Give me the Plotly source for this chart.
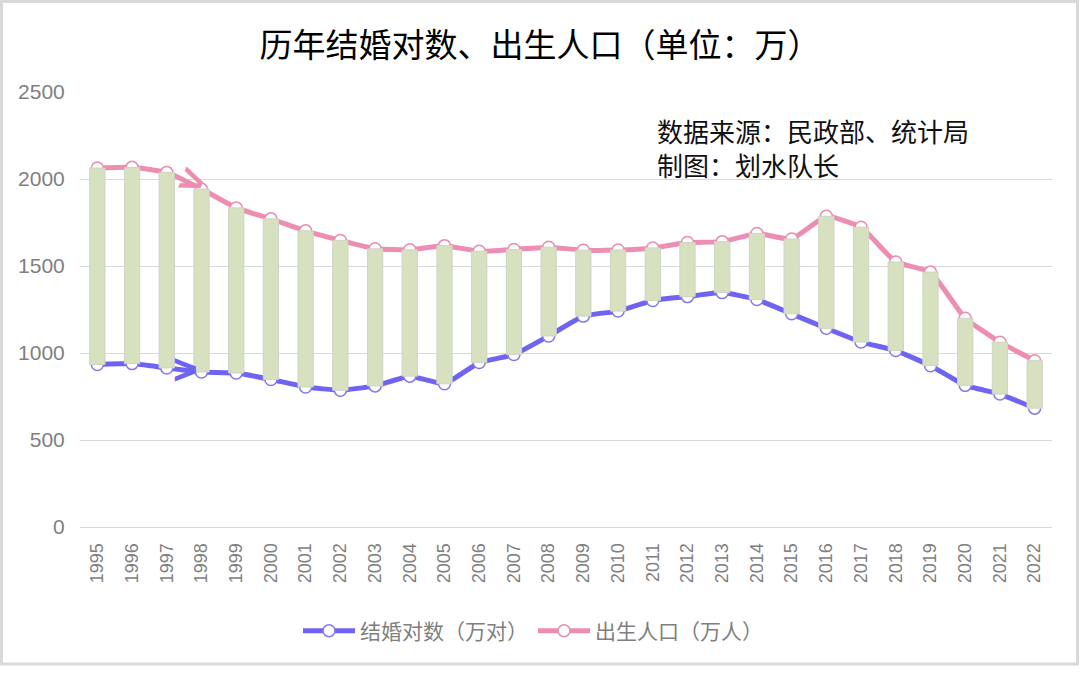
import plotly.graph_objects as go

years = [str(y) for y in range(1995, 2023)]
marriages = [934, 939, 914, 891, 885, 848, 805, 786, 811, 867, 823, 945, 991, 1098,
             1212, 1241, 1302, 1324, 1347, 1307, 1225, 1142, 1063, 1014, 927, 814, 764, 683]
births = [2063, 2067, 2038, 1942, 1834, 1771, 1702, 1647, 1599, 1593, 1617, 1585, 1595, 1608,
          1591, 1592, 1604, 1635, 1640, 1687, 1655, 1786, 1723, 1523, 1465, 1200, 1062, 956]
gaps = [b - m for b, m in zip(births, marriages)]

title_text = "历年结婚对数、出生人口（单位：万）"
source_line1 = "数据来源：民政部、统计局"
source_line2 = "制图：划水队长"
name_m = "结婚对数（万对）"
name_b = "出生人口（万人）"

W, H = 1080, 681
L, R, T, B = 80, 28, 92, 154
PW, PH = W - L - R, H - T - B

def px_x(p):
    return (p - L) / PW

def px_y(p):
    return (H - B - p) / PH

BLUE = "#6f63f3"
PINK = "#ee8db2"
GREEN = "#d7e1c0"
CJK = "Noto Sans CJK SC, Liberation Sans, sans-serif"

fig = go.Figure()

fig.add_trace(go.Scatter(
    x=years, y=marriages, name=name_m, mode="lines+markers",
    line=dict(color=BLUE, width=5, shape="spline", smoothing=0.4),
    marker=dict(size=12, color="white", line=dict(color="#8278ee", width=1.5)),
    zorder=0,
))
fig.add_trace(go.Scatter(
    x=years, y=births, name=name_b, mode="lines+markers",
    line=dict(color=PINK, width=5, shape="spline", smoothing=0.4),
    marker=dict(size=12, color="white", line=dict(color="#e98cb0", width=1.5)),
    zorder=0,
))
fig.add_trace(go.Bar(
    x=years, y=gaps, base=marriages, width=0.44, showlegend=False,
    marker=dict(color=GREEN, line=dict(color="#cfd3c6", width=1)),
    hoverinfo="skip", zorder=1,
))

# chevron arrows
fig.add_annotation(x=2.75, y=1990, xref="x", yref="y", text="<b>&gt;</b>", showarrow=False,
                   textangle=22, font=dict(size=42, color=PINK, family="Liberation Sans"))
fig.add_annotation(x=2.55, y=905, xref="x", yref="y", text="<b>&gt;</b>", showarrow=False,
                   textangle=0, font=dict(size=42, color=BLUE, family="Liberation Sans"))

fig.add_annotation(x=px_x(655), y=px_y(130), xref="paper", yref="paper", xanchor="left", yanchor="middle",
                   text=source_line1, showarrow=False, align="left",
                   font=dict(size=26, color="#111111", family=CJK))
fig.add_annotation(x=px_x(655), y=px_y(164), xref="paper", yref="paper", xanchor="left", yanchor="middle",
                   text=source_line2, showarrow=False, align="left",
                   font=dict(size=26, color="#111111", family=CJK))

# outer frame
fig.add_shape(type="rect", xref="paper", yref="paper",
              x0=px_x(1.5), x1=px_x(1077.5), y0=px_y(664), y1=px_y(1.5),
              line=dict(color="#d9d9d9", width=3), fillcolor="rgba(0,0,0,0)", layer="below")

fig.update_layout(
    width=W, height=H,
    margin=dict(l=L, r=R, t=T, b=B),
    paper_bgcolor="white", plot_bgcolor="white",
    title=dict(text=title_text, x=0.5, xanchor="center", y=1 - 45 / H, yanchor="middle",
               font=dict(size=33, color="#000000", family=CJK)),
    barmode="overlay",
    showlegend=True,
    legend=dict(orientation="h", x=px_x(533), xanchor="center",
                y=px_y(631), yanchor="middle", itemwidth=52,
                font=dict(size=21, color="#7f7f7f", family=CJK), bgcolor="rgba(0,0,0,0)"),
    font=dict(family="Liberation Sans, Arial, sans-serif"),
)
fig.update_xaxes(
    type="category", range=[-0.5, 27.5], showgrid=False, showline=False, zeroline=False,
    tickangle=-90, tickfont=dict(size=18, color="#7f7f7f", family="Liberation Sans"),
    ticks="outside", ticklen=8, tickcolor="rgba(0,0,0,0)",
)
fig.update_yaxes(
    range=[0, 2500], dtick=500, showgrid=True, gridcolor="#d9d9d9", gridwidth=1,
    zeroline=True, zerolinecolor="#d9d9d9", zerolinewidth=1, showline=False,
    tickfont=dict(size=21, color="#7f7f7f", family="Liberation Sans"),
    ticks="outside", ticklen=10, tickcolor="rgba(0,0,0,0)",
)

fig.write_html("out.html", config={"displayModeBar": False},
               post_script="document.body.style.margin='0';document.body.style.overflow='hidden';")
